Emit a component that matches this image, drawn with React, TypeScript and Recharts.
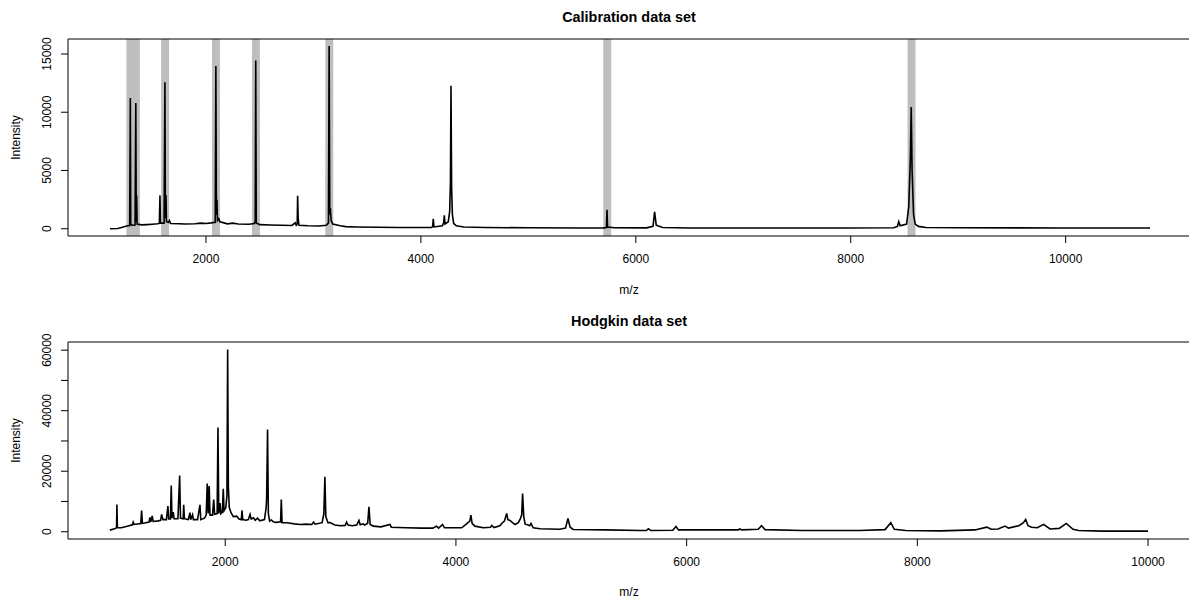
import React from 'react';
import { LineChart, Line, XAxis, YAxis, ReferenceArea, ReferenceLine } from 'recharts';

const FONT = '"Liberation Sans", Arial, Helvetica, sans-serif';

// Calibration spectrum: [m/z, intensity]
const calibrationSpectrum: [number, number][] = [
  [1107, 0], [1180, 20], [1230, 150], [1270, 250], [1290, 280], [1296, 11230], [1300, 350],
  [1320, 300], [1340, 320], [1347, 10800], [1351, 600], [1355, 2860], [1359, 400],
  [1400, 330], [1450, 350], [1500, 380], [1550, 420], [1566, 450], [1572, 2860], [1576, 480],
  [1610, 480], [1618, 12570], [1622, 900], [1628, 2900], [1632, 600], [1650, 550], [1660, 700],
  [1670, 450], [1750, 420], [1800, 400], [1900, 420], [1950, 480], [2000, 450], [2050, 500],
  [2086, 550], [2092, 13970], [2097, 1200], [2102, 2490], [2107, 700], [2120, 850], [2130, 600],
  [2200, 420], [2250, 480], [2300, 400], [2400, 380], [2450, 450], [2458, 600], [2463, 14430],
  [2468, 500], [2500, 350], [2600, 320], [2700, 300], [2800, 280], [2830, 500], [2840, 300],
  [2849, 400], [2853, 2830], [2858, 900], [2865, 300], [2950, 250], [3050, 230], [3120, 300],
  [3140, 500], [3146, 15690], [3152, 1200], [3157, 1770], [3165, 700], [3180, 400], [3250, 250],
  [3300, 180], [3400, 150], [3600, 120], [3800, 100], [4000, 100], [4100, 100], [4110, 200],
  [4115, 857], [4122, 150], [4200, 250], [4212, 500], [4218, 1140], [4225, 400], [4255, 600],
  [4268, 1500], [4275, 4000], [4280, 12280], [4286, 3500], [4293, 1200], [4305, 450], [4330, 250],
  [4400, 150], [4600, 100], [5000, 80], [5500, 60], [5700, 70], [5727, 100], [5732, 1630],
  [5737, 150], [5800, 80], [6100, 70], [6160, 200], [6175, 1457], [6190, 300], [6250, 100],
  [6500, 60], [7000, 60], [8000, 60], [8400, 80], [8435, 200], [8447, 600], [8460, 250],
  [8520, 400], [8540, 1900], [8555, 6000], [8563, 10450], [8571, 5000], [8585, 1200], [8600, 400],
  [8630, 200], [8700, 100], [9000, 80], [10000, 60], [10786, 60],
];

// Hodgkin spectrum: [m/z, intensity]
const hodgkinSpectrum: [number, number][] = [
  [1000, 530], [1050, 1100], [1058, 1500], [1061, 9020], [1065, 1300], [1100, 1300], [1150, 1800],
  [1195, 2300], [1202, 3170], [1210, 2400], [1268, 2700], [1275, 7040], [1282, 2800], [1300, 2900],
  [1340, 3200], [1347, 4720], [1355, 3300], [1367, 5200], [1375, 3400], [1420, 3600], [1440, 3800],
  [1449, 5720], [1460, 4000], [1490, 4000], [1503, 8460], [1510, 4200], [1525, 4200], [1532, 15300],
  [1538, 4500], [1550, 6500], [1556, 4300], [1590, 4300], [1605, 18600], [1612, 4500], [1635, 4300],
  [1640, 8900], [1646, 4300], [1680, 4000], [1694, 6300], [1700, 4000], [1717, 5600], [1724, 4000],
  [1760, 4000], [1781, 8900], [1788, 4000], [1820, 4500], [1835, 5500], [1844, 15960], [1852, 6000],
  [1861, 15070], [1868, 5500], [1890, 5500], [1900, 10670], [1908, 5800], [1930, 6000], [1937, 34460],
  [1944, 6000], [1955, 9500], [1962, 6000], [1975, 6500], [1983, 14200], [1990, 7000], [2005, 8000],
  [2015, 12000], [2021, 60230], [2027, 15000], [2035, 8000], [2050, 6270], [2070, 5000], [2099, 5160],
  [2120, 4200], [2140, 4000], [2145, 7040], [2152, 4000], [2180, 3800], [2200, 4000], [2215, 5720],
  [2225, 4200], [2245, 4620], [2260, 3800], [2280, 4500], [2300, 3600], [2340, 4000], [2355, 8000],
  [2359, 11230], [2367, 33800], [2374, 6000], [2385, 3500], [2400, 3900], [2420, 3200], [2440, 3100],
  [2480, 3300], [2486, 10670], [2493, 3000], [2535, 2970], [2600, 2600], [2650, 2400], [2700, 2500],
  [2750, 2400], [2766, 3170], [2780, 2500], [2840, 3000], [2855, 6000], [2864, 18170], [2872, 5000],
  [2890, 3000], [2908, 3000], [2950, 2200], [3000, 2000], [3040, 2100], [3052, 3170], [3065, 2200],
  [3100, 2000], [3140, 2200], [3159, 3730], [3170, 2300], [3196, 2630], [3210, 2200], [3235, 2800],
  [3246, 8250], [3256, 2500], [3283, 1850], [3350, 1600], [3428, 2400], [3440, 1500], [3500, 1400],
  [3572, 1300], [3700, 1200], [3800, 1200], [3832, 1850], [3850, 1200], [3884, 2400], [3900, 1300],
  [3976, 1300], [4050, 1300], [4092, 2630], [4120, 3500], [4130, 5490], [4140, 2800], [4165, 1850],
  [4237, 1300], [4300, 1500], [4310, 2070], [4330, 1400], [4380, 2000], [4397, 2740], [4420, 3500],
  [4440, 6040], [4450, 4000], [4469, 3730], [4490, 3000], [4513, 2400], [4540, 3000], [4556, 4060],
  [4570, 5500], [4578, 12650], [4588, 5000], [4600, 2500], [4614, 2400], [4640, 2000], [4651, 2740],
  [4670, 1300], [4729, 970], [4900, 800], [4950, 1200], [4971, 4390], [4990, 1500], [5017, 750],
  [5300, 600], [5595, 420], [5650, 400], [5669, 990], [5690, 400], [5880, 500], [5907, 1750],
  [5930, 600], [6200, 600], [6447, 600], [6460, 900], [6480, 600], [6620, 800], [6650, 1980],
  [6680, 700], [7000, 400], [7500, 400], [7720, 700], [7770, 2970], [7800, 800], [7900, 400],
  [8200, 300], [8500, 600], [8602, 1530], [8640, 800], [8700, 900], [8760, 1870], [8790, 1200],
  [8880, 2000], [8920, 3000], [8939, 4070], [8960, 2000], [8990, 1500], [9040, 1300], [9095, 2420],
  [9150, 900], [9230, 1100], [9291, 2750], [9350, 800], [9397, 400], [9600, 200], [10000, 200],
];

// Calibrant masses (grey bands)
const calibrantMz = [1296.7, 1347.7, 1619.8, 2093.1, 2465.2, 3147.5, 5734.6, 8565.9];
const BAND_HALF = 37;

const calXTicks = [2000, 4000, 6000, 8000, 10000];
const calYTicks = [0, 5000, 10000, 15000];
const calYLabels = ['0', '5000', '10000', '15000'];
const hodXTicks = [2000, 4000, 6000, 8000, 10000];
const hodYTicks = [0, 10000, 20000, 30000, 40000, 50000, 60000];
const hodYLabels = ['0', '', '20000', '', '40000', '', '60000'];

const calData = calibrationSpectrum.map(([mz, i]) => ({ mz, i }));
const hodData = hodgkinSpectrum.map(([mz, i]) => ({ mz, i }));

const makeYTick = (ticks: number[], labels: string[]) => (props: any) => {
  const { y, payload } = props;
  const idx = ticks.indexOf(payload.value);
  const label = idx >= 0 ? labels[idx] : '';
  return (
    <text
      x={47}
      y={y}
      transform={`rotate(-90 47 ${y})`}
      textAnchor="middle"
      dominantBaseline="central"
      fontSize={12}
      fontFamily={FONT}
      fill="#000"
    >
      {label}
    </text>
  );
};

const XTick = (props: any) => {
  const { x, y, payload } = props;
  return (
    <text x={x} y={y + 16.3} textAnchor="middle" dominantBaseline="central" fontSize={12} fontFamily={FONT} fill="#000">
      {String(payload.value)}
    </text>
  );
};

export default function App() {
  return (
    <div style={{ position: 'absolute', left: 0, top: 0, width: 1189, height: 598, background: '#fff', overflow: 'hidden' }}>
      <div style={{ position: 'absolute', left: 0, top: 0 }}>
        <LineChart width={1189} height={299} data={calData} margin={{ top: 39, right: 0, bottom: 0, left: 0 }}>
          {calibrantMz.map((c) => (
            <ReferenceArea key={c} x1={c - BAND_HALF} x2={c + BAND_HALF} fill="#BEBEBE" fillOpacity={1} stroke="none" ifOverflow="hidden" />
          ))}
          <XAxis
            dataKey="mz"
            type="number"
            domain={[716, 11148]}
            allowDataOverflow
            ticks={calXTicks}
            tickSize={7}
            tickMargin={0}
            height={63}
            stroke="#000"
            tickLine={{ stroke: '#000' }}
            axisLine={{ stroke: '#000' }}
            tick={<XTick />}
            interval={0}
          />
          <YAxis
            type="number"
            domain={[-626, 16286]}
            allowDataOverflow
            ticks={calYTicks}
            tickSize={7}
            width={68}
            stroke="#000"
            tickLine={{ stroke: '#000' }}
            axisLine={{ stroke: '#000' }}
            tick={makeYTick(calYTicks, calYLabels)}
            interval={0}
          />
          <ReferenceLine y={16286} stroke="#000" strokeWidth={1} ifOverflow="extendDomain" />
          <Line dataKey="i" type="linear" stroke="#000" strokeWidth={1.6} dot={false} isAnimationActive={false} />
        </LineChart>
      </div>
      <div style={{ position: 'absolute', left: 0, top: 300 }}>
        <LineChart width={1189} height={298} data={hodData} margin={{ top: 42, right: 0, bottom: 0, left: 0 }}>
          <XAxis
            dataKey="mz"
            type="number"
            domain={[637, 10355]}
            allowDataOverflow
            ticks={hodXTicks}
            tickSize={7}
            tickMargin={0}
            height={59}
            stroke="#000"
            tickLine={{ stroke: '#000' }}
            axisLine={{ stroke: '#000' }}
            tick={<XTick />}
            interval={0}
          />
          <YAxis
            type="number"
            domain={[-2400, 62700]}
            allowDataOverflow
            ticks={hodYTicks}
            tickSize={7}
            width={68}
            stroke="#000"
            tickLine={{ stroke: '#000' }}
            axisLine={{ stroke: '#000' }}
            tick={makeYTick(hodYTicks, hodYLabels)}
            interval={0}
          />
          <ReferenceLine y={62700} stroke="#000" strokeWidth={1} ifOverflow="extendDomain" />
          <Line dataKey="i" type="linear" stroke="#000" strokeWidth={1.6} dot={false} isAnimationActive={false} />
        </LineChart>
      </div>
      <svg width={1189} height={598} style={{ position: 'absolute', left: 0, top: 0, pointerEvents: 'none' }}>
        <g fontFamily={FONT} fill="#000">
          <text x={629} y={16.7} textAnchor="middle" dominantBaseline="central" fontSize={14.4} fontWeight="bold">Calibration data set</text>
          <text x={629} y={321} textAnchor="middle" dominantBaseline="central" fontSize={14.4} fontWeight="bold">Hodgkin data set</text>
          <text x={629} y={290} textAnchor="middle" dominantBaseline="central" fontSize={12}>m/z</text>
          <text x={629} y={592} textAnchor="middle" dominantBaseline="central" fontSize={12}>m/z</text>
          <text x={16} y={137.5} transform="rotate(-90 16 137.5)" textAnchor="middle" dominantBaseline="central" fontSize={12}>Intensity</text>
          <text x={16} y={440.5} transform="rotate(-90 16 440.5)" textAnchor="middle" dominantBaseline="central" fontSize={12}>Intensity</text>
        </g>
      </svg>
    </div>
  );
}
